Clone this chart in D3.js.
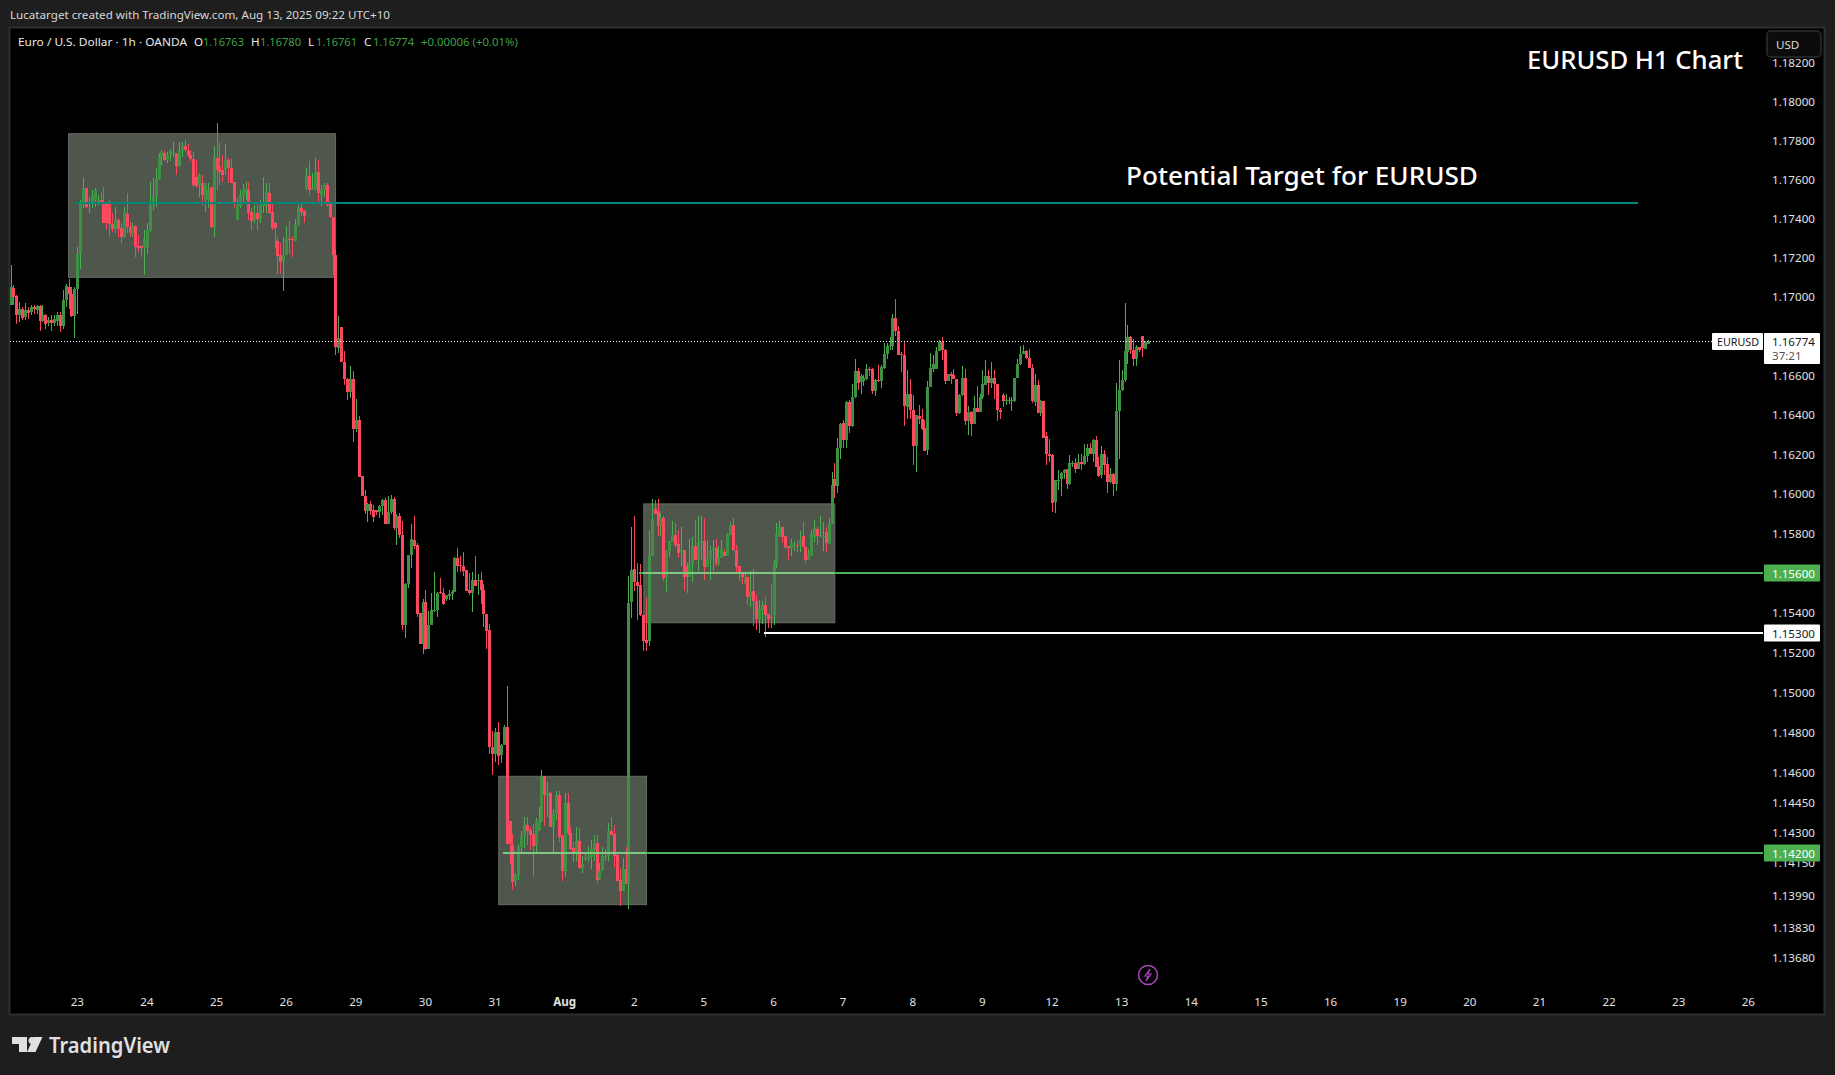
<!DOCTYPE html>
<html><head><meta charset="utf-8">
<style>
html,body{margin:0;padding:0;background:#1e1e1e;overflow:hidden}
svg{display:block}
text{font-family:"Noto Sans",sans-serif}
</style>
<script src="https://cdn.jsdelivr.net/npm/d3@7"></script>
</head><body><svg id="c" width="1835" height="1075"></svg>
<script>
// Candles per session, each row is [open, high, low, close]
const jul22=[[1.16962,1.17166,1.16962,1.17051],[1.17048,1.17060,1.16957,1.17000],[1.17004,1.17009,1.16863,1.16906],[1.16906,1.16974,1.16872,1.16940],[1.16940,1.16949,1.16884,1.16894],[1.16898,1.16969,1.16884,1.16935],[1.16932,1.16949,1.16889,1.16921],[1.16923,1.16957,1.16906,1.16949],[1.16949,1.16962,1.16915,1.16940],[1.16932,1.16962,1.16915,1.16952],[1.16952,1.16957,1.16826,1.16880],[1.16877,1.16957,1.16872,1.16906],[1.16906,1.16915,1.16838,1.16863],[1.16867,1.16898,1.16855,1.16884],[1.16884,1.16906,1.16829,1.16867],[1.16867,1.16906,1.16850,1.16889],[1.16880,1.16923,1.16855,1.16906],[1.16906,1.16923,1.16821,1.16855],[1.16855,1.17034,1.16838,1.16986],[1.16986,1.17068,1.16949,1.17055],[1.17051,1.17094,1.16940,1.17014],[1.17014,1.17051,1.16898,1.16901],[1.16901,1.17051,1.16791,1.17043]];
const jul23=[[1.17043,1.17257,1.16915,1.17222],[1.17222,1.17496,1.17145,1.17479],[1.17479,1.17607,1.17453,1.17551],[1.17556,1.17559,1.17453,1.17458],[1.17474,1.17513,1.17428,1.17487],[1.17479,1.17547,1.17453,1.17522],[1.17496,1.17556,1.17462,1.17547],[1.17484,1.17522,1.17470,1.17496],[1.17496,1.17539,1.17479,1.17484],[1.17487,1.17564,1.17376,1.17380],[1.17479,1.17487,1.17342,1.17376],[1.17475,1.17496,1.17308,1.17373],[1.17373,1.17428,1.17334,1.17346],[1.17349,1.17462,1.17325,1.17393],[1.17393,1.17402,1.17304,1.17346],[1.17351,1.17376,1.17277,1.17304],[1.17304,1.17462,1.17299,1.17428],[1.17424,1.17534,1.17325,1.17359],[1.17359,1.17385,1.17304,1.17328],[1.17328,1.17376,1.17308,1.17363],[1.17363,1.17366,1.17205,1.17257],[1.17260,1.17316,1.17231,1.17250],[1.17260,1.17265,1.17205,1.17250],[1.17257,1.17342,1.17111,1.17294]];
const jul24=[[1.17257,1.17376,1.17222,1.17342],[1.17342,1.17590,1.17334,1.17470],[1.17470,1.17607,1.17445,1.17513],[1.17513,1.17658,1.17462,1.17602],[1.17602,1.17739,1.17599,1.17718],[1.17718,1.17752,1.17676,1.17744],[1.17739,1.17749,1.17693,1.17701],[1.17701,1.17744,1.17684,1.17727],[1.17727,1.17756,1.17693,1.17752],[1.17735,1.17795,1.17718,1.17744],[1.17739,1.17739,1.17624,1.17670],[1.17670,1.17795,1.17667,1.17752],[1.17749,1.17795,1.17718,1.17773],[1.17773,1.17804,1.17744,1.17752],[1.17749,1.17783,1.17718,1.17727],[1.17727,1.17752,1.17698,1.17705],[1.17705,1.17744,1.17564,1.17573],[1.17616,1.17701,1.17556,1.17568],[1.17573,1.17633,1.17513,1.17624],[1.17585,1.17624,1.17470,1.17522],[1.17496,1.17582,1.17436,1.17573],[1.17496,1.17582,1.17453,1.17547],[1.17564,1.17564,1.17351,1.17359],[1.17359,1.17770,1.17308,1.17718]];
const jul25=[[1.17710,1.17889,1.17547,1.17650],[1.17664,1.17787,1.17573,1.17641],[1.17650,1.17727,1.17590,1.17624],[1.17650,1.17783,1.17624,1.17701],[1.17701,1.17710,1.17581,1.17658],[1.17660,1.17706,1.17585,1.17585],[1.17587,1.17590,1.17453,1.17487],[1.17393,1.17505,1.17393,1.17470],[1.17467,1.17547,1.17453,1.17522],[1.17522,1.17578,1.17479,1.17552],[1.17539,1.17590,1.17496,1.17552],[1.17547,1.17590,1.17393,1.17431],[1.17436,1.17453,1.17342,1.17390],[1.17393,1.17470,1.17380,1.17428],[1.17428,1.17470,1.17342,1.17399],[1.17404,1.17496,1.17380,1.17470],[1.17467,1.17616,1.17428,1.17479],[1.17470,1.17585,1.17428,1.17537],[1.17532,1.17582,1.17424,1.17431],[1.17436,1.17481,1.17342,1.17352],[1.17376,1.17385,1.17248,1.17351],[1.17286,1.17308,1.17116,1.17210],[1.17214,1.17274,1.17116,1.17180],[1.17185,1.17308,1.17031,1.17214]];
const jul26=[[1.17214,1.17363,1.17214,1.17299],[1.17296,1.17388,1.17222,1.17291],[1.17296,1.17311,1.17205,1.17291],[1.17287,1.17397,1.17287,1.17366],[1.17366,1.17470,1.17363,1.17462],[1.17453,1.17475,1.17414,1.17436],[1.17440,1.17445,1.17380,1.17416],[1.17556,1.17658,1.17547,1.17624],[1.17619,1.17698,1.17522,1.17547],[1.17547,1.17636,1.17547,1.17556],[1.17556,1.17710,1.17547,1.17641],[1.17641,1.17701,1.17479,1.17530],[1.17522,1.17573,1.17465,1.17547],[1.17547,1.17582,1.17513,1.17573],[1.17573,1.17585,1.17462,1.17470],[1.17475,1.17479,1.17402,1.17407],[1.17411,1.17411,1.17111,1.17214],[1.17214,1.17245,1.16706,1.16744],[1.16743,1.16901,1.16715,1.16793],[1.16846,1.16846,1.16668,1.16670],[1.16668,1.16724,1.16551,1.16582],[1.16582,1.16587,1.16475,1.16516],[1.16516,1.16648,1.16485,1.16582],[1.16582,1.16622,1.16262,1.16330]];
const jul29=[[1.16330,1.16480,1.16312,1.16373],[1.16373,1.16394,1.16084,1.16084],[1.16089,1.16089,1.15991,1.15991],[1.15991,1.16019,1.15897,1.15917],[1.15917,1.15953,1.15857,1.15948],[1.15948,1.15963,1.15892,1.15914],[1.15920,1.15943,1.15857,1.15882],[1.15920,1.15922,1.15892,1.15909],[1.15909,1.15943,1.15877,1.15938],[1.15938,1.15976,1.15892,1.15968],[1.15968,1.15978,1.15847,1.15847],[1.15847,1.15988,1.15847,1.15909],[1.15909,1.15993,1.15897,1.15973],[1.15973,1.15983,1.15821,1.15829],[1.15829,1.15897,1.15745,1.15887],[1.15887,1.15905,1.15777,1.15791],[1.15791,1.15862,1.15317,1.15339],[1.15339,1.15553,1.15274,1.15548],[1.15544,1.15695,1.15528,1.15695],[1.15692,1.15847,1.15629,1.15771],[1.15766,1.15890,1.15725,1.15737],[1.15745,1.15752,1.15379,1.15398],[1.15403,1.15403,1.15247,1.15247],[1.15247,1.15473,1.15194,1.15458]];
const jul30=[[1.15458,1.15518,1.15217,1.15222],[1.15222,1.15413,1.15222,1.15338],[1.15338,1.15500,1.15338,1.15418],[1.15410,1.15609,1.15408,1.15418],[1.15418,1.15508,1.15379,1.15503],[1.15506,1.15578,1.15498,1.15500],[1.15503,1.15528,1.15443,1.15448],[1.15473,1.15493,1.15463,1.15491],[1.15488,1.15515,1.15468,1.15498],[1.15498,1.15515,1.15468,1.15506],[1.15506,1.15680,1.15506,1.15677],[1.15675,1.15730,1.15609,1.15639],[1.15644,1.15685,1.15609,1.15637],[1.15639,1.15710,1.15585,1.15614],[1.15619,1.15619,1.15510,1.15510],[1.15515,1.15601,1.15491,1.15500],[1.15503,1.15609,1.15406,1.15569],[1.15569,1.15690,1.15535,1.15535],[1.15564,1.15595,1.15491,1.15569],[1.15569,1.15609,1.15448,1.15515],[1.15518,1.15548,1.15330,1.15394],[1.15398,1.15398,1.15222,1.15312],[1.15315,1.15345,1.14695,1.14730],[1.14730,1.14810,1.14587,1.14692]];
const jul31=[[1.14692,1.14825,1.14655,1.14805],[1.14805,1.14855,1.14638,1.14685],[1.14690,1.14745,1.14650,1.14740],[1.14737,1.14840,1.14737,1.14830],[1.14830,1.15036,1.14244,1.14244],[1.14361,1.14361,1.14145,1.14244],[1.14242,1.14297,1.14016,1.14056],[1.14063,1.14103,1.14035,1.14091],[1.14091,1.14247,1.14068,1.14232],[1.14232,1.14312,1.14207,1.14282],[1.14282,1.14379,1.14227,1.14343],[1.14341,1.14381,1.14238,1.14312],[1.14314,1.14329,1.14217,1.14292],[1.14295,1.14346,1.14083,1.14235],[1.14235,1.14376,1.14197,1.14361],[1.14314,1.14431,1.14312,1.14361],[1.14361,1.14615,1.14356,1.14585],[1.14583,1.14585,1.14334,1.14488],[1.14486,1.14553,1.14381,1.14501],[1.14501,1.14506,1.14329,1.14329],[1.14329,1.14421,1.14207,1.14394],[1.14394,1.14511,1.14366,1.14491],[1.14491,1.14511,1.14253,1.14282],[1.14287,1.14297,1.14061,1.14113]];
const aug1=[[1.14113,1.14501,1.14079,1.14451],[1.14451,1.14501,1.14292,1.14302],[1.14302,1.14332,1.14217,1.14222],[1.14227,1.14253,1.14154,1.14194],[1.14194,1.14332,1.14160,1.14262],[1.14262,1.14323,1.14123,1.14128],[1.14128,1.14187,1.14100,1.14145],[1.14169,1.14197,1.14162,1.14173],[1.14169,1.14235,1.14157,1.14179],[1.14179,1.14267,1.14119,1.14220],[1.14217,1.14292,1.14160,1.14248],[1.14248,1.14292,1.14053,1.14067],[1.14071,1.14152,1.14068,1.14110],[1.14110,1.14229,1.14110,1.14187],[1.14182,1.14222,1.14162,1.14187],[1.14187,1.14351,1.14162,1.14310],[1.14310,1.14381,1.14292,1.14292],[1.14295,1.14341,1.14133,1.14187],[1.14192,1.14197,1.14063,1.14063],[1.14068,1.14128,1.13936,1.14011],[1.14011,1.14175,1.14011,1.14123],[1.14123,1.14232,1.14048,1.14048],[1.14048,1.15589,1.13921,1.15449],[1.15455,1.15836,1.15374,1.15619]];
const aug2=[[1.15624,1.15887,1.15513,1.15555],[1.15555,1.15654,1.15363,1.15538],[1.15543,1.15649,1.15383,1.15393],[1.15393,1.15393,1.15212,1.15262],[1.15267,1.15483,1.15212,1.15252],[1.15258,1.15821,1.15237,1.15693],[1.15685,1.15973,1.15685,1.15875],[1.15926,1.15968,1.15901,1.15901],[1.15917,1.15973,1.15787,1.15838],[1.15838,1.15906,1.15787,1.15880],[1.15880,1.15887,1.15560,1.15575],[1.15575,1.15719,1.15505,1.15715],[1.15711,1.15761,1.15681,1.15761],[1.15757,1.15862,1.15757,1.15791],[1.15791,1.15855,1.15732,1.15744],[1.15750,1.15820,1.15676,1.15701],[1.15701,1.15836,1.15639,1.15719],[1.15719,1.15719,1.15510,1.15580],[1.15639,1.15653,1.15500,1.15580],[1.15580,1.15774,1.15580,1.15648],[1.15644,1.15782,1.15555,1.15740],[1.15740,1.15867,1.15665,1.15665],[1.15665,1.15887,1.15611,1.15754],[1.15754,1.15887,1.15665,1.15761]];
const aug5=[[1.15761,1.15877,1.15569,1.15634],[1.15634,1.15766,1.15634,1.15670],[1.15670,1.15740,1.15569,1.15719],[1.15719,1.15766,1.15614,1.15728],[1.15728,1.15774,1.15639,1.15648],[1.15648,1.15740,1.15639,1.15678],[1.15678,1.15766,1.15678,1.15724],[1.15706,1.15725,1.15685,1.15690],[1.15690,1.15801,1.15690,1.15796],[1.15791,1.15858,1.15791,1.15842],[1.15842,1.15880,1.15715,1.15719],[1.15720,1.15745,1.15597,1.15634],[1.15639,1.15639,1.15560,1.15597],[1.15600,1.15605,1.15544,1.15584],[1.15548,1.15597,1.15544,1.15584],[1.15584,1.15584,1.15443,1.15480],[1.15480,1.15614,1.15429,1.15508],[1.15511,1.15623,1.15334,1.15459],[1.15463,1.15493,1.15317,1.15368],[1.15368,1.15466,1.15301,1.15421],[1.15418,1.15459,1.15343,1.15441],[1.15441,1.15483,1.15279,1.15393],[1.15396,1.15396,1.15324,1.15368],[1.15378,1.15544,1.15324,1.15373]];
const aug6=[[1.15388,1.15665,1.15338,1.15653],[1.15651,1.15853,1.15628,1.15796],[1.15791,1.15862,1.15782,1.15833],[1.15833,1.15836,1.15754,1.15782],[1.15786,1.15786,1.15724,1.15732],[1.15737,1.15737,1.15665,1.15727],[1.15727,1.15774,1.15685,1.15754],[1.15740,1.15761,1.15715,1.15745],[1.15745,1.15761,1.15710,1.15742],[1.15742,1.15815,1.15710,1.15766],[1.15786,1.15858,1.15732,1.15735],[1.15735,1.15735,1.15651,1.15665],[1.15665,1.15725,1.15665,1.15695],[1.15690,1.15820,1.15690,1.15798],[1.15782,1.15867,1.15757,1.15833],[1.15824,1.15833,1.15745,1.15787],[1.15786,1.15887,1.15782,1.15791],[1.15782,1.15858,1.15715,1.15787],[1.15807,1.15836,1.15706,1.15752],[1.15749,1.15880,1.15749,1.15850],[1.15850,1.16111,1.15850,1.16044],[1.16074,1.16157,1.15982,1.16040],[1.16040,1.16285,1.16005,1.16235],[1.16235,1.16359,1.16175,1.16356]];
const aug7=[[1.16361,1.16376,1.16233,1.16275],[1.16275,1.16470,1.16233,1.16465],[1.16465,1.16475,1.16309,1.16344],[1.16344,1.16556,1.16339,1.16492],[1.16492,1.16687,1.16487,1.16626],[1.16626,1.16641,1.16529,1.16563],[1.16566,1.16607,1.16505,1.16597],[1.16573,1.16602,1.16546,1.16587],[1.16583,1.16661,1.16577,1.16636],[1.16636,1.16644,1.16597,1.16627],[1.16632,1.16641,1.16509,1.16521],[1.16521,1.16585,1.16495,1.16580],[1.16580,1.16653,1.16568,1.16573],[1.16573,1.16653,1.16537,1.16644],[1.16641,1.16764,1.16636,1.16712],[1.16709,1.16764,1.16687,1.16752],[1.16752,1.16795,1.16730,1.16755],[1.16752,1.16915,1.16730,1.16894],[1.16894,1.16988,1.16804,1.16826],[1.16829,1.16850,1.16704,1.16705],[1.16709,1.16720,1.16619,1.16704],[1.16704,1.16769,1.16344,1.16446],[1.16441,1.16627,1.16382,1.16509],[1.16509,1.16585,1.16382,1.16428]];
const aug8=[[1.16428,1.16500,1.16145,1.16243],[1.16243,1.16399,1.16111,1.16399],[1.16394,1.16450,1.16356,1.16382],[1.16382,1.16433,1.16323,1.16328],[1.16335,1.16373,1.16216,1.16216],[1.16221,1.16573,1.16196,1.16543],[1.16543,1.16717,1.16543,1.16641],[1.16636,1.16704,1.16619,1.16658],[1.16636,1.16747,1.16636,1.16724],[1.16724,1.16781,1.16724,1.16769],[1.16769,1.16795,1.16678,1.16729],[1.16729,1.16735,1.16556,1.16571],[1.16571,1.16609,1.16571,1.16609],[1.16609,1.16617,1.16556,1.16597],[1.16602,1.16636,1.16582,1.16582],[1.16582,1.16585,1.16394,1.16410],[1.16410,1.16505,1.16407,1.16500],[1.16500,1.16648,1.16495,1.16590],[1.16590,1.16632,1.16348,1.16370],[1.16370,1.16445,1.16297,1.16416],[1.16416,1.16421,1.16292,1.16353],[1.16353,1.16495,1.16353,1.16438],[1.16438,1.16546,1.16416,1.16416],[1.16416,1.16505,1.16416,1.16490]];
const aug9=[[1.16490,1.16627,1.16484,1.16560],[1.16551,1.16682,1.16551,1.16597],[1.16597,1.16627,1.16500,1.16563],[1.16563,1.16668,1.16539,1.16590],[1.16590,1.16627,1.16484,1.16556],[1.16560,1.16560,1.16370,1.16424],[1.16428,1.16438,1.16382,1.16414],[1.16500,1.16514,1.16441,1.16471],[1.16471,1.16505,1.16450,1.16478],[1.16471,1.16490,1.16455,1.16477],[1.16471,1.16490,1.16421,1.16477],[1.16471,1.16590,1.16466,1.16590],[1.16588,1.16687,1.16588,1.16661],[1.16658,1.16752,1.16653,1.16712],[1.16712,1.16755,1.16712,1.16724],[1.16724,1.16729,1.16687,1.16688],[1.16692,1.16735,1.16638,1.16638],[1.16641,1.16661,1.16461,1.16471],[1.16466,1.16607,1.16445,1.16551],[1.16551,1.16580,1.16410,1.16410],[1.16410,1.16478,1.16394,1.16470],[1.16470,1.16470,1.16283,1.16283],[1.16292,1.16314,1.16145,1.16201],[1.16204,1.16280,1.16162,1.16192]];
const aug12=[[1.16196,1.16204,1.15909,1.15954],[1.15959,1.16069,1.15904,1.16069],[1.16064,1.16120,1.16022,1.16072],[1.16074,1.16111,1.15988,1.16108],[1.16108,1.16128,1.16074,1.16123],[1.16125,1.16128,1.16024,1.16049],[1.16049,1.16196,1.16046,1.16159],[1.16150,1.16167,1.16137,1.16157],[1.16159,1.16184,1.16106,1.16125],[1.16125,1.16204,1.16125,1.16162],[1.16162,1.16201,1.16120,1.16150],[1.16150,1.16255,1.16145,1.16192],[1.16192,1.16255,1.16162,1.16231],[1.16231,1.16258,1.16201,1.16204],[1.16204,1.16280,1.16162,1.16275],[1.16275,1.16292,1.16137,1.16137],[1.16140,1.16187,1.16086,1.16091],[1.16094,1.16241,1.16083,1.16204],[1.16204,1.16225,1.16094,1.16145],[1.16150,1.16187,1.16005,1.16059],[1.16059,1.16133,1.16054,1.16102],[1.16102,1.16106,1.15988,1.16049],[1.16049,1.16563,1.16014,1.16421],[1.16421,1.16682,1.16175,1.16526]];
const aug13=[[1.16526,1.16627,1.16522,1.16580],[1.16580,1.16971,1.16568,1.16724],[1.16720,1.16860,1.16658,1.16798],[1.16798,1.16804,1.16709,1.16729],[1.16732,1.16786,1.16648,1.16685],[1.16685,1.16757,1.16648,1.16747],[1.16747,1.16747,1.16720,1.16732],[1.16804,1.16804,1.16695,1.16743],[1.16733,1.16778,1.16733,1.16769],[1.16763,1.16780,1.16761,1.16774]];

const sessions=[jul22,jul23,jul24,jul25,jul26,jul29,jul30,jul31,aug1,aug2,aug5,aug6,aug7,aug8,aug9,aug12,aug13];
const firstBar=-23;            // bars before the "23" tick

const dayLabels=["23","24","25","26","29","30","31","Aug","2","5","6","7","8","9","12","13","14","15","16","19","20","21","22","23","26"];
const barsPerDay=24;
const priceTicks=[1.182,1.18,1.178,1.176,1.174,1.172,1.17,1.168,1.166,1.164,1.162,1.16,1.158,1.156,1.154,1.152,1.15,1.148,1.146,1.1445,1.143,1.1415,1.1399,1.1383,1.1368];

// Shaded ranges: [first bar, last bar, top price, bottom price]
const rangeBoxes=[[-3.2,88.85,1.17838,1.17103],[145.1,196.05,1.14585,1.13946],[195.1,260.95,1.15953,1.15354]];
// Horizontal levels: [from bar, to bar, price, colour]
const levels=[[-0.5,538,1.17482,"#00897b"],[193.6,581,1.156,"#4caf50"],[236.7,581,1.153,"#ffffff"],[146.7,581,1.142,"#4caf50"]];
const lastPrice=1.16774;
const tagLabels=[[1.156,"#4caf50","#ffffff"],[1.153,"#ffffff","#131722"],[1.142,"#4caf50","#ffffff"]];

const svg=d3.select("#c");
const x=d3.scaleLinear().domain([0,576]).range([77.3,77.3+1671]);
const y=d3.scaleLog().domain([1.18,1.1368]).range([101.7,957.8]);
const fmt=d3.format(".5f");
const bars=sessions.flat().map((r,i)=>({k:firstBar+i,o:r[0],h:r[1],l:r[2],c:r[3]}));

// frame
svg.append("rect").attr("width",1835).attr("height",1075).attr("fill","#1e1e1e");
svg.append("rect").attr("x",9.5).attr("y",27.5).attr("width",1815).attr("height",987).attr("fill","#000").attr("stroke","#2e2e2e").attr("stroke-width",2);
svg.append("defs").append("clipPath").attr("id","plot").append("rect").attr("x",10).attr("y",28).attr("width",1813).attr("height",986);
const plot=svg.append("g").attr("clip-path","url(#plot)");

// boxes
plot.append("g").selectAll("rect").data(rangeBoxes).join("rect")
 .attr("x",d=>x(d[0])+.5).attr("y",d=>y(d[2])+.5)
 .attr("width",d=>x(d[1])-x(d[0])).attr("height",d=>y(d[3])-y(d[2]))
 .attr("fill","#4f574d").attr("stroke","#666c64").attr("stroke-width",1);

// candles
const upW="#4caf50",dnW="#f7475c",upB="#3d9142",dnB="#fb4a60";
const cg=plot.append("g").attr("shape-rendering","crispEdges");
cg.selectAll("rect.w").data(bars).join("rect").attr("class","w")
 .attr("x",d=>Math.round(x(d.k))).attr("width",1)
 .attr("y",d=>y(d.h)).attr("height",d=>Math.max(1,y(d.l)-y(d.h)))
 .attr("fill",d=>d.c>=d.o?upW:dnW);
cg.selectAll("rect.b").data(bars).join("rect").attr("class","b")
 .attr("x",d=>Math.round(x(d.k))-1).attr("width",3)
 .attr("y",d=>y(Math.max(d.o,d.c))).attr("height",d=>Math.max(1,Math.abs(y(d.o)-y(d.c))))
 .attr("fill",d=>d.c>=d.o?upB:dnB);

// levels
plot.append("g").selectAll("rect").data(levels).join("rect")
 .attr("shape-rendering","crispEdges")
 .attr("x",d=>x(d[0])).attr("width",d=>x(d[1])-x(d[0]))
 .attr("y",d=>Math.round(y(d[2]))-1).attr("height",2).attr("fill",d=>d[3]);
// green levels look lighter where they pass through a shaded box
const inBox=levels.filter(l=>l[3]==="#4caf50").map(l=>{const b=rangeBoxes.find(b=>l[2]<b[2]&&l[2]>b[3]);return [Math.max(l[0],b[0]),b[1],l[2]];});
plot.append("g").selectAll("rect").data(inBox).join("rect")
 .attr("shape-rendering","crispEdges")
 .attr("x",d=>x(d[0])).attr("width",d=>x(d[1])-x(d[0]))
 .attr("y",d=>Math.round(y(d[2]))-1).attr("height",2).attr("fill","#81c784");

// last price dotted line
plot.append("line").attr("x1",10).attr("x2",1712).attr("y1",Math.round(y(lastPrice))+.5).attr("y2",Math.round(y(lastPrice))+.5)
 .attr("stroke","#fff").attr("stroke-width",1).attr("stroke-dasharray","1 2");

// axes
const yAxis=d3.axisRight(y).tickValues(priceTicks).tickFormat(fmt).tickSize(0).tickPadding(0);
const ya=svg.append("g").attr("transform","translate(1772,0)").call(yAxis);
ya.select(".domain").remove();
ya.selectAll("text").attr("fill","#e2e2e2").attr("font-size",11.6).attr("font-family","'Noto Sans',sans-serif");

const dayTicks=dayLabels.map((_,i)=>i*barsPerDay);
const xAxis=d3.axisBottom(x).tickValues(dayTicks).tickFormat((_,i)=>dayLabels[i]).tickSize(0).tickPadding(0);
const xa=svg.append("g").attr("transform","translate(-0.5,997.5)").call(xAxis);
xa.select(".domain").remove();
xa.selectAll("text").attr("fill","#e2e2e2").attr("font-size",11.6).attr("font-family","'Noto Sans',sans-serif")
  .attr("font-weight",(_,i)=>dayLabels[i]==="Aug"?700:400);

// price tags
svg.append("g").selectAll("g").data(tagLabels).join(enter=>{
  const g=enter.append("g");
  g.append("rect").attr("x",1764).attr("width",56).attr("y",d=>Math.round(y(d[0]))-8.5).attr("height",17).attr("fill",d=>d[1]).attr("rx",1);
  g.append("text").attr("x",1772).attr("y",d=>Math.round(y(d[0]))+4.5).attr("font-size",11.6).attr("fill",d=>d[2]).text(d=>fmt(d[0]));
  return g;});

const ly=Math.round(y(lastPrice));
svg.append("rect").attr("x",1712).attr("y",ly-8).attr("width",51).attr("height",17).attr("fill","#fff").attr("rx",1);
svg.append("text").attr("x",1717).attr("y",ly+5).attr("font-size",11.6).attr("fill","#131722").attr("textLength",42).attr("lengthAdjust","spacingAndGlyphs").text("EURUSD");
svg.append("rect").attr("x",1764).attr("y",ly-8).attr("width",56).attr("height",31).attr("fill","#fff").attr("rx",1);
svg.append("text").attr("x",1772).attr("y",ly+5).attr("font-size",11.6).attr("fill","#131722").text(fmt(lastPrice));
svg.append("text").attr("x",1772).attr("y",ly+19).attr("font-size",11.6).attr("fill","#555").text("37:21");

// USD button
svg.append("rect").attr("x",1767).attr("y",31).attr("width",54).attr("height",26).attr("rx",4).attr("fill","#0c0c0c").attr("stroke","#2e2e2e").attr("stroke-width",1.5);
svg.append("text").attr("x",1776).attr("y",49).attr("font-size",11.6).attr("fill","#dcdcdc").text("USD");

// headers
const t=(s,xp,yp,size,fill,len)=>{const e=svg.append("text").attr("x",xp).attr("y",yp).attr("font-size",size).attr("fill",fill).text(s);if(len)e.attr("textLength",len).attr("lengthAdjust","spacingAndGlyphs");return e;};
t("Lucatarget created with TradingView.com, Aug 13, 2025 09:22 UTC+10",10,19,11.6,"#d8d8d8",380);
t("Euro / U.S. Dollar · 1h · OANDA",18,46,11.6,"#e8e8e8",169);
const greenText="#3fa046";
[["O",194,"1.16763",203],["H",251,"1.16780",260],["L",308,"1.16761",316],["C",364,"1.16774",373]].forEach(r=>{
  t(r[0],r[1],46,11.6,"#e8e8e8");t(r[2],r[3],46,11.6,greenText,41);});
t("+0.00006 (+0.01%)",421,46,11.6,greenText,97);
t("EURUSD H1 Chart",1527,69,26,"#ffffff",216).attr("font-weight",500);
t("Potential Target for EURUSD",1126,185,26,"#ffffff",352).attr("font-weight",500);

// lightning badge
svg.append("circle").attr("cx",1148).attr("cy",975).attr("r",9.5).attr("fill","none").attr("stroke","#ab47bc").attr("stroke-width",1.5);
svg.append("path").attr("d","M1150 969l-5 7h3l-2 5 5-7h-3z").attr("fill","none").attr("stroke","#ab47bc").attr("stroke-width",1.2);

// logo
const logo=svg.append("g").attr("fill","#e0e0e0");
logo.append("path").attr("d","M12 1037h15v15h-8v-8h-7z");
logo.append("circle").attr("cx",32).attr("cy",1040.5).attr("r",3.5);
logo.append("path").attr("d","M34 1037h8.5l-7 15h-8.5z");
t("TradingView",49,1053,21,"#e0e0e0",121).attr("font-family","Inter,sans-serif").attr("font-weight",600);
</script></body></html>
